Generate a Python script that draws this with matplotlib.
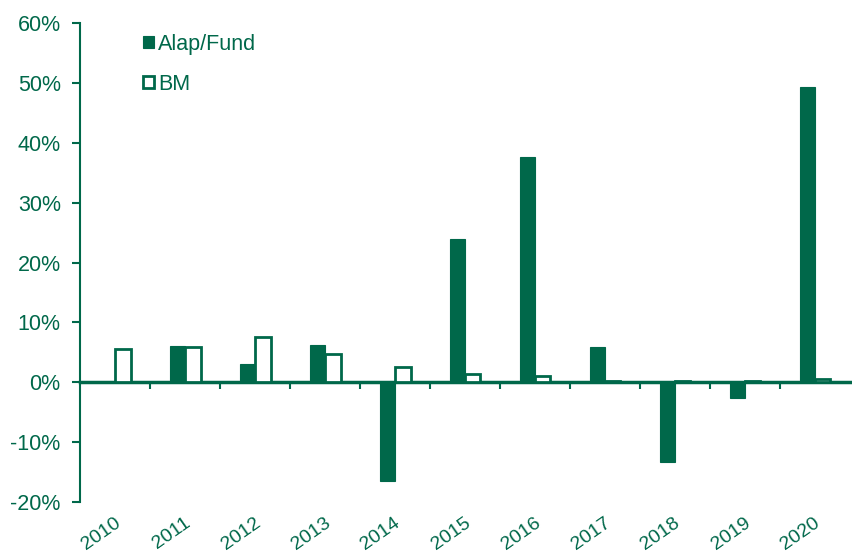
import numpy as np
import matplotlib
matplotlib.use("Agg")
import matplotlib.pyplot as plt
import matplotlib.transforms as mtransforms
from matplotlib.ticker import FuncFormatter, MultipleLocator

# adatok (%)
years = ['2010', '2011', '2012', '2013', '2014', '2015', '2016', '2017', '2018', '2019', '2020']
fund = [0.0, 6.0, 3.1, 6.3, -16.5, 23.9, 37.7, 5.9, -13.3, -2.7, 49.3]
bm = [5.6, 5.9, 7.6, 4.8, 2.6, 1.4, 1.0, 0.2, 0.2, 0.2, 0.6]

green = '#00684a'
plt.rcParams['font.family'] = ['Liberation Sans', 'DejaVu Sans']

fig = plt.figure(figsize=(8.53, 5.55), dpi=100)
ax = fig.add_axes([0.094, 0.0955, 0.9025, 0.863])

x = np.arange(len(years))
w = 0.22
b1 = ax.bar(x - w / 2, fund, w, color=green, edgecolor=green, linewidth=0.8, label='Alap/Fund')
b2 = ax.bar(x + w / 2, bm, w, color='white', edgecolor=green, linewidth=2, label='BM')

ax.set_xlim(-0.5, len(years) - 0.5)
ax.set_ylim(-20, 60)
ax.yaxis.set_major_locator(MultipleLocator(10))
ax.yaxis.set_major_formatter(FuncFormatter(lambda v, p: f'{v:.0f}%'))

for s in ['top', 'right', 'bottom']:
    ax.spines[s].set_visible(False)
ax.spines['left'].set_color(green)
ax.spines['left'].set_linewidth(1.5)
ax.tick_params(axis='y', colors=green, labelcolor=green, labelsize=15.5, length=6, width=1.5, pad=8)

# évszámok alul, ferdén
ax.set_xticks(x)
ax.set_xticklabels(years, rotation=35, ha='right', rotation_mode='anchor')
ax.tick_params(axis='x', length=0, labelcolor=green, labelsize=14, pad=9)
shift = mtransforms.ScaledTranslation(-1 / 72, 0, fig.dpi_scale_trans)
for lbl in ax.get_xticklabels():
    lbl.set_transform(lbl.get_transform() + shift)

# nullvonal a kategóriahatárokon lévő osztásokkal
zero = ax.secondary_xaxis(0.25)
zero.set_xticks(np.arange(len(years) - 1) + 0.5)
zero.set_xticklabels([])
zero.spines['bottom'].set_color(green)
zero.spines['bottom'].set_linewidth(2.5)
zero.tick_params(axis='x', colors=green, length=5, width=1.5, direction='out')

leg = ax.legend(handles=[b1, b2], loc='upper left', bbox_to_anchor=(0.082, 0.978),
                frameon=False, fontsize=15.5, handlelength=0.5, handleheight=0.5,
                handletextpad=0.2, labelspacing=0.9, borderpad=0, borderaxespad=0)
for t in leg.get_texts():
    t.set_color(green)

fig.savefig('out.png', dpi=100)
